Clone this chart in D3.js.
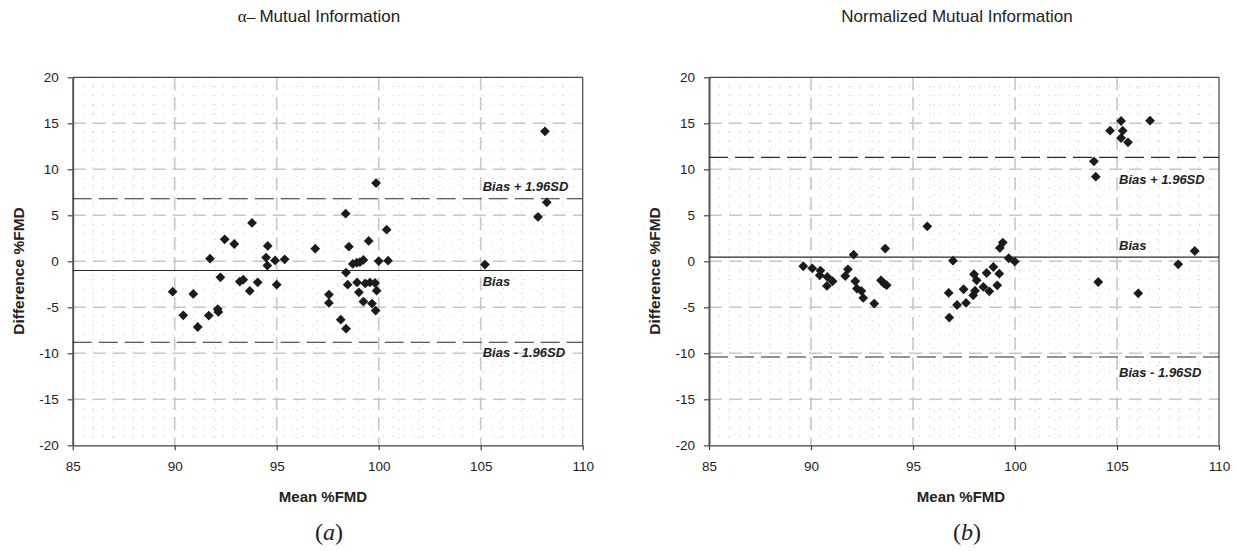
<!DOCTYPE html>
<html><head><meta charset="utf-8">
<script src="https://cdn.jsdelivr.net/npm/d3@7"></script>
<style>
body{margin:0;background:#fff}
svg{display:block}
text{font-family:"Liberation Sans",Arial,Helvetica,sans-serif;fill:#222}
</style>
</head><body>
<svg id="c" width="1242" height="551"></svg>
<script>
// ---- data ----
const xTicks = [85, 90, 95, 100, 105, 110];
const yTicks = [-20, -15, -10, -5, 0, 5, 10, 15, 20];
const panelTitles = ["Mutual Information", "Normalized Mutual Information"];
const panelTags = ["a", "b"];
const xAxisTitle = "Mean %FMD";
const yAxisTitle = "Difference %FMD";
const limitNames = ["Bias + 1.96SD", "Bias", "Bias - 1.96SD"];

// alpha-Mutual Information
const alphaMean = [99.87, 98.38, 100.39, 93.79, 92.45, 92.92, 99.51, 94.56, 96.89, 98.54,
  91.73, 94.48, 94.92, 95.39, 94.54, 98.73, 98.92, 99.08, 99.25, 100.0,
  100.46, 98.40, 92.24, 93.19, 93.36, 94.07, 95.0, 98.48, 98.94, 99.34,
  99.57, 99.82, 89.9, 90.91, 93.68, 97.56, 99.03, 99.9, 97.56, 99.25,
  99.67, 99.85, 92.11, 92.14, 90.42, 91.67, 91.13, 98.14, 98.40, 108.15,
  108.24, 107.81, 105.21];
const alphaDiff = [8.5, 5.18, 3.44, 4.17, 2.39, 1.88, 2.21, 1.67, 1.37, 1.59,
  0.29, 0.40, 0.10, 0.21, -0.47, -0.29, -0.15, -0.10, 0.15, 0.03,
  0.07, -1.23, -1.74, -2.20, -2.00, -2.28, -2.54, -2.54, -2.30, -2.40,
  -2.30, -2.36, -3.3, -3.55, -3.22, -3.62, -3.37, -3.19, -4.53, -4.38,
  -4.60, -5.36, -5.2, -5.5, -5.87, -5.9, -7.14, -6.34, -7.32, 14.13,
  6.41, 4.82, -0.36];
const alphaLimits = [6.8, -1.0, -8.8];
const alphaLabelY = [7.6, -2.7, -10.4];

// Normalized Mutual Information
const nmiMean = [95.70, 93.64, 92.09, 89.62, 90.06, 90.46, 90.43, 90.80, 91.06, 90.78,
  91.81, 91.68, 92.17, 92.25, 92.47, 92.56, 93.10, 93.43, 93.59, 93.71,
  96.96, 99.40, 99.26, 99.69, 99.99, 96.75, 96.78, 97.16, 97.48, 97.60,
  97.99, 98.12, 97.95, 98.04, 98.45, 98.61, 98.74, 98.94, 99.23, 99.13,
  103.87, 103.96, 104.66, 105.20, 105.28, 105.20, 105.54, 106.62, 104.08, 106.04,
  108.00, 108.81];
const nmiDiff = [3.80, 1.38, 0.72, -0.54, -0.76, -1.01, -1.52, -1.70, -2.17, -2.68,
  -0.87, -1.60, -2.17, -2.97, -3.22, -3.98, -4.60, -2.07, -2.43, -2.60,
  0.07, 2.03, 1.45, 0.33, -0.03, -3.44, -6.12, -4.75, -3.04, -4.53,
  -1.41, -2.07, -3.70, -3.20, -2.79, -1.27, -3.26, -0.62, -1.34, -2.61,
  10.87, 9.20, 14.20, 15.25, 14.20, 13.40, 12.93, 15.29, -2.25, -3.48,
  -0.33, 1.12];
const nmiLimits = [11.3, 0.45, -10.4];
const nmiLabelY = [8.4, 1.2, -12.6];
const labelX = 105.1;

// ---- drawing ----
const svg = d3.select("#c");
svg.append("rect").attr("width", 1242).attr("height", 551).attr("fill", "#fff");

function panel(o) {
  const x = d3.scaleLinear().domain([85, 110]).range([o.left, o.right]);
  const y = d3.scaleLinear().domain([-20, 20]).range([445.3, 77.3]);
  const g = svg.append("g");
  const [x0, x1] = x.range(), [y0, y1] = y.range();

  // minor dotted grid
  const minorX = x.ticks(25).filter(v => v % 5 !== 0);
  const minorY = y.ticks(40).filter(v => v % 5 !== 0);
  g.append("g").selectAll("line").data(minorX).join("line")
    .attr("x1", d => x(d)).attr("x2", d => x(d)).attr("y1", y1).attr("y2", y0)
    .attr("stroke", "#c4c4c4").attr("stroke-width", 1).attr("stroke-dasharray", "1,8");
  g.append("g").selectAll("line").data(minorY).join("line")
    .attr("x1", x0).attr("x2", x1).attr("y1", d => y(d)).attr("y2", d => y(d))
    .attr("stroke", "#c4c4c4").attr("stroke-width", 1).attr("stroke-dasharray", "1,9");

  // major dashed grid
  g.append("g").selectAll("line").data(xTicks.slice(1, -1)).join("line")
    .attr("x1", d => x(d)).attr("x2", d => x(d)).attr("y1", y1).attr("y2", y0)
    .attr("stroke", "#cdc4c4").attr("stroke-width", 1.6).attr("stroke-dasharray", "13,7");
  g.append("g").selectAll("line").data(yTicks.slice(1, -1)).join("line")
    .attr("x1", x0).attr("x2", x1).attr("y1", d => y(d)).attr("y2", d => y(d))
    .attr("stroke", "#cdc4c4").attr("stroke-width", 1.6).attr("stroke-dasharray", "13,7");

  // frame top/right
  g.append("line").attr("x1", x0).attr("x2", x1).attr("y1", y1).attr("y2", y1)
    .attr("stroke", "#444").attr("stroke-width", 1.2);
  g.append("line").attr("x1", x1).attr("x2", x1).attr("y1", y1).attr("y2", y0)
    .attr("stroke", "#444").attr("stroke-width", 1.2);

  // axes
  const fmt = d => String(d);
  const ax = g.append("g").attr("transform", `translate(0,${y0})`)
    .call(d3.axisBottom(x).tickValues(xTicks).tickFormat(fmt).tickSize(5).tickSizeOuter(0).tickPadding(11));
  const ay = g.append("g").attr("transform", `translate(${x0},0)`)
    .call(d3.axisLeft(y).tickValues(yTicks).tickFormat(fmt).tickSize(5).tickSizeOuter(0).tickPadding(9));
  [ax, ay].forEach(a => {
    a.selectAll("text").style("font-size", "13.5px").attr("fill", "#222")
      .style("font-family", '"Liberation Sans",Arial,sans-serif');
    a.selectAll("line").attr("stroke", "#444").attr("stroke-width", 1.2);
  });
  ax.select(".domain").attr("stroke", "#444").attr("stroke-width", 1.2);
  ay.select(".domain").attr("stroke", "#555").attr("stroke-width", 2);

  // limit lines
  g.append("g").selectAll("line").data(o.limits).join("line")
    .attr("x1", x0).attr("x2", x1).attr("y1", d => y(d)).attr("y2", d => y(d))
    .attr("stroke", "#2a2a2a").attr("stroke-width", 1.2)
    .attr("stroke-dasharray", (d, i) => i === 1 ? null : "19,7");
  g.append("g").selectAll("text").data(limitNames).join("text")
    .attr("x", x(labelX)).attr("y", (d, i) => y(o.labelY[i]))
    .style("font-size", "13px").style("font-weight", "bold").style("font-style", "italic")
    .text(d => d);

  // points
  const pts = o.mean.map((m, i) => [m, o.diff[i]]);
  g.append("g").selectAll("path").data(pts).join("path")
    .attr("d", d3.symbol(d3.symbolSquare, 48))
    .attr("transform", d => `translate(${x(d[0])},${y(d[1])}) rotate(45)`)
    .attr("fill", "#1b1b1b");

  // titles
  const t = g.append("text").attr("x", o.titleX).attr("y", 22)
    .attr("text-anchor", "middle").style("font-size", "17px");
  if (o.alpha) {
    t.append("tspan").style("font-family", '"Liberation Serif",serif').style("font-size", "17px").text("α– ");
  }
  t.append("tspan").text(o.title);

  g.append("text").attr("x", o.xTitleX).attr("y", 502).attr("text-anchor", "middle")
    .style("font-size", "15px").style("font-weight", "bold").text(xAxisTitle);
  g.append("text").attr("transform", `translate(${x0 - 54},271) rotate(-90)`)
    .attr("text-anchor", "middle").attr("dy", "0.35em")
    .style("font-size", "15.5px").style("font-weight", "bold").text(yAxisTitle);

  const tag = g.append("text").attr("x", o.tagX).attr("y", 540).attr("text-anchor", "middle")
    .style("font-family", '"Liberation Serif","DejaVu Serif",serif').style("font-size", "24px");
  tag.append("tspan").text("(");
  tag.append("tspan").style("font-style", "italic").text(o.tag);
  tag.append("tspan").text(")");
}

panel({left: 72.7, right: 582.7, mean: alphaMean, diff: alphaDiff, limits: alphaLimits,
  labelY: alphaLabelY, title: panelTitles[0], alpha: true, titleX: 319, xTitleX: 323, tagX: 329, tag: panelTags[0]});
panel({left: 709, right: 1219, mean: nmiMean, diff: nmiDiff, limits: nmiLimits,
  labelY: nmiLabelY, title: panelTitles[1], alpha: false, titleX: 957, xTitleX: 961, tagX: 967, tag: panelTags[1]});
</script>
</body></html>
